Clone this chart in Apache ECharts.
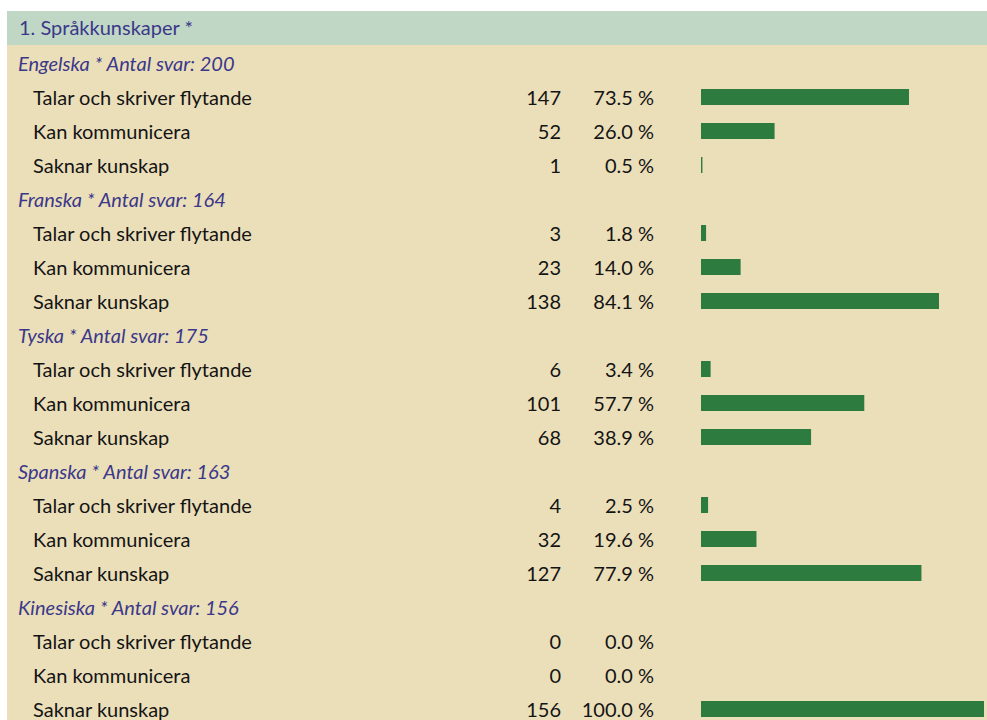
<!DOCTYPE html>
<html>
<head>
<meta charset="utf-8">
<script src="https://cdn.jsdelivr.net/npm/echarts@6/dist/echarts.min.js"></script>
<style>
html,body{margin:0;padding:0;background:#ffffff;}
#chart{width:987px;height:720px;}
</style>
</head>
<body>
<div id="chart"></div>
<script>
// ---- data ----
const questionTitle = '1. Språkkunskaper *';
const languages = ['Engelska', 'Franska', 'Tyska', 'Spanska', 'Kinesiska'];
const totals = [200, 164, 175, 163, 156];
const answerOptions = ['Talar och skriver flytande', 'Kan kommunicera', 'Saknar kunskap'];
const engelskaCounts = [147, 52, 1];
const franskaCounts = [3, 23, 138];
const tyskaCounts = [6, 101, 68];
const spanskaCounts = [4, 32, 127];
const kinesiskaCounts = [0, 0, 156];
const engelskaPct = [73.5, 26.0, 0.5];
const franskaPct = [1.8, 14.0, 84.1];
const tyskaPct = [3.4, 57.7, 38.9];
const spanskaPct = [2.5, 19.6, 77.9];
const kinesiskaPct = [0.0, 0.0, 100.0];

const allCounts = [engelskaCounts, franskaCounts, tyskaCounts, spanskaCounts, kinesiskaCounts];
const allPct = [engelskaPct, franskaPct, tyskaPct, spanskaPct, kinesiskaPct];

// ---- build rows ----
const rows = [];
languages.forEach((lang, li) => {
  rows.push({ kind: 'title', label: lang + ' * Antal svar: ' + totals[li] });
  answerOptions.forEach((opt, oi) => {
    rows.push({ kind: 'item', label: opt, count: allCounts[li][oi], pct: allPct[li][oi] });
  });
});
const rowKeys = rows.map((r, i) => String(i));
const barData = rows.map(r => r.kind === 'item' ? r.pct : '-');

const FONT = 'Lato';
const FS = 20;
const ROW = 34;
const GRID_LEFT = 701;
const GRID_TOP = 46;

const chart = echarts.init(document.getElementById('chart'), null, { renderer: 'svg' });
chart.setOption({
  backgroundColor: '#ffffff',
  animation: false,
  textStyle: { fontFamily: FONT },
  graphic: [
    { type: 'rect', z: -10, shape: { x: 7, y: 45, width: 980, height: 675 }, style: { fill: '#ebdfba' } },
    { type: 'rect', z: -10, shape: { x: 7, y: 11, width: 980, height: 34 }, style: { fill: '#c0d7c6' } }
  ],
  title: {
    text: questionTitle,
    left: 19,
    top: 15,
    padding: 0,
    textStyle: { fontFamily: FONT, fontSize: FS, fontWeight: 'normal', color: '#3b3889', lineHeight: 24 }
  },
  grid: {
    left: GRID_LEFT, top: GRID_TOP, width: 283, height: ROW * rows.length,
    containLabel: false, outerBoundsMode: 'none'
  },
  xAxis: { type: 'value', min: 0, max: 100, show: false },
  yAxis: [
    {
      type: 'category', inverse: true, data: rowKeys,
      axisLine: { show: false }, axisTick: { show: false }, splitLine: { show: false },
      axisLabel: {
        interval: 0, align: 'left', margin: GRID_LEFT - 18,
        formatter: (v, i) => rows[i].kind === 'title' ? '{t|' + rows[i].label + '}' : '{i|' + rows[i].label + '}',
        rich: {
          t: { fontFamily: FONT, fontSize: FS, fontStyle: 'italic', color: '#3b3889' },
          i: { fontFamily: FONT, fontSize: FS, color: '#141414', padding: [0, 0, 0, 15] }
        }
      }
    },
    {
      type: 'category', inverse: true, data: rowKeys, position: 'left', offset: GRID_LEFT - 561,
      axisLine: { show: false }, axisTick: { show: false }, splitLine: { show: false },
      axisLabel: {
        interval: 0, align: 'right', margin: 0,
        fontFamily: FONT, fontSize: FS, color: '#141414',
        formatter: (v, i) => rows[i].kind === 'item' ? String(rows[i].count) : ''
      }
    },
    {
      type: 'category', inverse: true, data: rowKeys, position: 'left', offset: GRID_LEFT - 654,
      axisLine: { show: false }, axisTick: { show: false }, splitLine: { show: false },
      axisLabel: {
        interval: 0, align: 'right', margin: 0,
        fontFamily: FONT, fontSize: FS, color: '#141414',
        formatter: (v, i) => rows[i].kind === 'item' ? rows[i].pct.toFixed(1) + ' %' : ''
      }
    }
  ],
  series: [{
    type: 'bar',
    yAxisIndex: 0,
    data: barData,
    barWidth: 16,
    itemStyle: { color: '#2e7b40' },
    silent: true
  }]
});
</script>
</body>
</html>
